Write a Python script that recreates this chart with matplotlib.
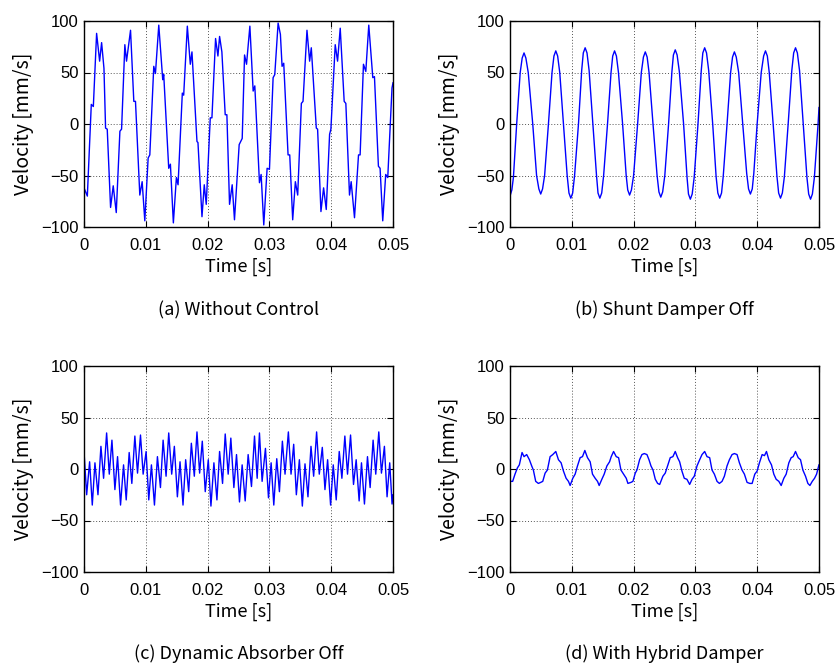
import matplotlib
matplotlib.use("Agg")
import matplotlib.pyplot as plt
import numpy as np

plt.rcParams["font.family"] = ["Liberation Sans", "DejaVu Sans"]
plt.rcParams["axes.unicode_minus"] = True

JP_FONT = ["Noto Sans CJK JP", "DejaVu Sans"]
BLUE = "#0000ff"

# sampled traces: time in ms, velocity in mm/s
t_a = [0.00, 0.54, 1.18, 1.51, 2.04, 2.53, 2.85, 3.23, 3.49, 3.76, 4.30, 4.73,
       5.22, 5.81, 6.08, 6.61, 6.88, 7.53, 8.06, 8.33, 9.03, 9.41, 9.84, 10.38,
       10.65, 11.29, 11.56, 12.10, 12.74, 12.90, 13.71, 13.98, 14.46, 14.95,
       15.22, 15.91, 16.13, 16.72, 17.20, 17.47, 18.28, 18.44, 19.09, 19.46,
       19.78, 20.43, 20.70, 21.29, 21.67, 21.94, 22.31, 22.85, 23.12, 23.55,
       23.98, 24.35, 25.11,
       25.60, 25.98, 26.30, 26.84, 27.37, 27.64, 28.39, 28.66, 29.09, 29.63,
       30.01, 30.60, 30.87, 31.41, 31.78, 32.05, 32.32, 33.02, 33.29, 33.77,
       34.20, 34.58, 35.17, 35.44, 36.08, 36.51, 36.78, 37.59, 37.80, 38.34,
       38.77, 39.20, 39.74, 39.95, 40.65, 41.03, 41.46, 42.10, 42.37, 42.96,
       43.23, 43.77, 44.42, 44.68, 45.22, 45.60, 46.08, 46.73, 47.00, 47.64,
       47.91, 48.34, 48.82, 49.15, 49.84, 50.00]
v_a = [-62, -70, 19, 17, 88, 61, 79, 54, -4, -5, -81, -60,
       -86, -7, -5, 77, 61, 91, 22, 22, -69, -56, -94, -33,
       -30, 56, 49, 96, 43, 48, -43, -39, -96, -52,
       -59, 30, 28, 95, 58, 70, -17, -18, -90, -59,
       -78, 6, 6, 83, 66, 85, 70, 9, 9, -78,
       -59, -93, -20,
       -14, 67, 58, 95, 32, 37, -57, -49, -98, -43,
       -44, 45, 48, 98, 87, 56, 59, -30, -30, -93,
       -56, -69, 20, 22, 91, 61, 74, -4, -5, -85,
       -62, -83, -10, -5, 77, 61, 93, 22, 20, -69,
       -56, -91, -30, -30, 58, 51, 96, 45, 46, -41,
       -43, -94, -49, -52, 35, 40]

t_b = [0.00, 0.30, 0.55, 1.08, 1.65, 1.97, 2.27, 2.57, 2.95, 3.68, 4.30, 4.67,
       4.97, 5.27, 5.60, 6.22, 6.80, 7.11, 7.41, 7.71, 8.05, 8.65, 9.25, 9.54,
       9.84, 10.14, 10.45, 11.08, 11.60, 11.86, 12.16, 12.46, 12.80, 13.41,
       14.00, 14.24, 14.54, 14.84, 15.15, 15.78, 16.35, 16.62, 16.92, 17.22,
       17.55, 18.22, 18.80, 19.05, 19.35, 19.65, 20.00, 20.65, 21.25, 21.59,
       21.89, 22.19, 22.50, 23.14, 23.80, 24.10, 24.40, 24.70, 25.05, 25.66,
       26.20, 26.44, 26.74, 27.04, 27.40, 28.09, 28.65, 28.88, 29.18, 29.48,
       29.80, 30.42, 30.95, 31.20, 31.50, 31.80, 32.15, 32.80, 33.35, 33.63,
       33.93, 34.23, 34.50, 35.12, 35.70, 36.01, 36.31, 36.61, 37.00, 37.66,
       38.30, 38.60, 38.90, 39.20, 39.45, 39.99, 40.65, 41.04, 41.34, 41.64,
       41.95, 42.58, 43.20, 43.47, 43.77, 44.07, 44.40, 45.01, 45.60, 45.90,
       46.20, 46.50, 46.85, 47.45, 48.05, 48.33, 48.63, 48.93, 49.25, 49.85,
       50.00]
v_b = [-70, -64, -52, 0, 50, 64, 69, 64, 50, 0, -50, -63,
       -68, -63, -50, 0, 50, 66, 71, 66, 50, 0, -50, -67,
       -72, -67, -50, 0, 52, 69, 74, 69, 52, 0,
       -50, -67, -72, -67, -50, 0, 50, 66, 71, 66,
       50, 0, -50, -64, -69, -64, -50, 0, 50, 65,
       70, 65, 50, 0, -50, -66, -71, -66, -50, 0,
       51, 67, 72, 67, 51, 0, -52, -68, -73, -68,
       -52, 0, 52, 69, 74, 69, 52, 0, -51, -67,
       -72, -67, -51, 0, 50, 65, 70, 65, 50, 0,
       -48, -63, -68, -63, -48, 0, 50, 66, 71, 66,
       50, 0, -51, -67, -72, -67, -51, 0, 52, 69,
       74, 69, 52, 0, -52, -68, -73, -68, -52, 0,
       16]

t_c = [0.00, 0.43, 0.91, 1.34, 1.77, 2.26, 2.74, 3.17, 3.66, 4.09, 4.52, 5.00,
       5.43, 5.91, 6.40, 6.83, 7.31, 7.74, 8.23, 8.66, 9.14, 9.57, 10.05, 10.48,
       10.91, 11.40, 11.88, 12.37, 12.80, 13.28, 13.71, 14.19, 14.62, 15.11,
       15.54, 16.02, 16.45, 16.94, 17.37, 17.85, 18.28, 18.71, 19.14, 19.62,
       20.11, 20.54, 21.02, 21.51, 21.94, 22.42, 22.85, 23.33, 23.76, 24.25,
       24.68, 25.16, 25.59, 26.08, 26.56, 27.10, 27.59, 28.02, 28.39, 28.82,
       29.36, 29.85, 30.28, 30.71, 31.19, 31.62, 32.10, 32.53, 33.07, 33.50,
       33.93, 34.36, 34.85, 35.33, 35.76, 36.24, 36.73, 37.16, 37.64, 38.07,
       38.56, 38.99, 39.42, 39.90, 40.33, 40.81, 41.30, 41.73, 42.21, 42.64,
       43.13, 43.61, 44.04, 44.52, 44.90, 45.38, 45.87, 46.30, 46.78, 47.21,
       47.70, 48.13, 48.61, 49.04, 49.47, 49.85, 50.00]
v_c = [17, -25, 7, -35, 6, -25, 22, -9, 35, -5, 28, -20,
       12, -35, 4, -30, 16, -14, 32, -4, 33, -5, 17, -30,
       4, -35, 12, -18, 28, -7, 35, -5, 22, -27,
       7, -35, 9, -22, 25, -7, 36, -4, 27, -22,
       9, -36, 6, -30, 17, -14, 34, -5, 30, -18,
       14, -32, 4, -31, 14, -17, 32, -9, 35, -12,
       20, -28, 6, -35, 10, -22, 27, -5, 36, -5,
       24, -25, 9, -36, 5, -27, 22, -7, 36, -5,
       21, -20, 9, -35, 4, -30, 17, -9, 32, -5,
       33, -15, 9, -31, 6, -34, 12, -18, 28, -5,
       36, -4, 22, -27, 6, -34, -25]

t_d = [0.00, 0.43, 0.81, 1.19, 1.51, 1.95, 2.27, 2.70, 3.14, 3.51, 3.78, 4.16,
       4.59, 4.97, 5.30, 5.68, 6.05, 6.49, 6.92, 7.41, 7.84, 8.27, 8.65, 9.08,
       9.46, 9.73, 10.16, 10.54, 10.92, 11.35, 11.73, 12.11, 12.54, 12.97,
       13.35, 13.78, 14.16, 14.43, 14.86, 15.24, 15.68, 16.11, 16.38, 16.76,
       17.19, 17.57, 17.95, 18.38, 18.81, 19.08, 19.57, 19.89, 20.27, 20.54,
       20.97, 21.35, 21.73, 22.16, 22.49, 22.81, 23.14, 23.51, 23.89, 24.22,
       24.74, 25.12, 25.50, 25.93, 26.36, 26.74, 27.12, 27.45, 27.82, 28.20,
       28.63, 29.07, 29.45, 29.82, 30.26, 30.69, 31.07, 31.50, 31.88, 32.31,
       32.69, 33.07, 33.50, 33.88, 34.31, 34.69, 35.12, 35.50, 35.93, 36.31,
       36.74, 37.12, 37.55, 37.93, 38.36, 38.80, 39.18, 39.61, 39.99, 40.36,
       40.80, 41.18, 41.50, 41.88, 42.31, 42.69, 43.07, 43.50, 43.88, 44.31,
       44.69, 45.12, 45.50, 45.82, 46.20, 46.63, 47.01, 47.39, 47.82, 48.20,
       48.53, 48.91, 49.28, 49.61, 49.99]
v_d = [-12, -12, -5, 1, 4, 16, 12, 14, 9, 3, -1, -12,
       -14, -13, -12, -4, -1, 12, 14, 17, 9, 6, -2, -9,
       -12, -16, -9, -5, 3, 11, 12, 18, 11, 7,
       -5, -9, -12, -16, -10, -5, 3, 7, 12, 17,
       12, 11, -1, -5, -9, -14, -13, -12, -4, -1,
       9, 14, 15, 14, 9, 3, -1, -10, -14, -15,
       -7, -4, 3, 11, 12, 17, 11, 7, -2, -9,
       -10, -15, -10, -7, 3, 9, 14, 17, 12, 11,
       -1, -5, -12, -14, -12, -7, 3, 9, 14, 15,
       14, 6, -1, -5, -13, -14, -14, -5, -2, 6,
       14, 13, 17, 9, 4, -5, -10, -12, -16, -9,
       -5, 6, 11, 12, 17, 11, 9, -1, -7, -14,
       -16, -12, -9, -5, 4]

panels = [(t_a, v_a), (t_b, v_b), (t_c, v_c), (t_d, v_d)]
captions = ["(a) Without Control", "(b) Shunt Damper Off",
            "(c) Dynamic Absorber Off", "(d) With Hybrid Damper"]
xticks = [0, 0.01, 0.02, 0.03, 0.04, 0.05]
xtick_labels = ["0", "0.01", "0.02", "0.03", "0.04", "0.05"]
yticks = [-100, -50, 0, 50, 100]

fig = plt.figure(figsize=(8.36, 6.64), dpi=100)

W, H = 836, 664
boxes = [(84, 21), (510, 21), (84, 366), (510, 366)]  # left, top in px
aw, ah = 309, 206
cap_y = [310, 310, 654, 654]

for i, ((t, v), (lx, ty)) in enumerate(zip(panels, boxes)):
    ax = fig.add_axes([lx / W, 1 - (ty + ah) / H, aw / W, ah / H])
    ax.plot(np.array(t) / 1000.0, v, color=BLUE, lw=1.0)
    ax.set_xlim(0, 0.05)
    ax.set_ylim(-100, 100)
    ax.set_xticks(xticks)
    ax.set_xticklabels(xtick_labels)
    ax.set_yticks(yticks)
    ax.grid(True, color="#555555", ls=(0, (1, 2)), lw=0.7)
    ax.tick_params(direction="in", length=4, top=True, right=True,
                   labelsize=12)
    ax.tick_params(axis="x", pad=8)
    ax.tick_params(axis="y", pad=4)
    for s in ax.spines.values():
        s.set_linewidth(1.0)
    ax.set_xlabel("Time [s]", family=JP_FONT, fontsize=13, labelpad=3)
    ax.set_ylabel("Velocity [mm/s]", family=JP_FONT, fontsize=14, labelpad=5)
    fig.text((lx + aw / 2) / W, 1 - cap_y[i] / H, captions[i],
             family=JP_FONT, fontsize=13, ha="center", va="center")

fig.savefig("out.png", dpi=100)
